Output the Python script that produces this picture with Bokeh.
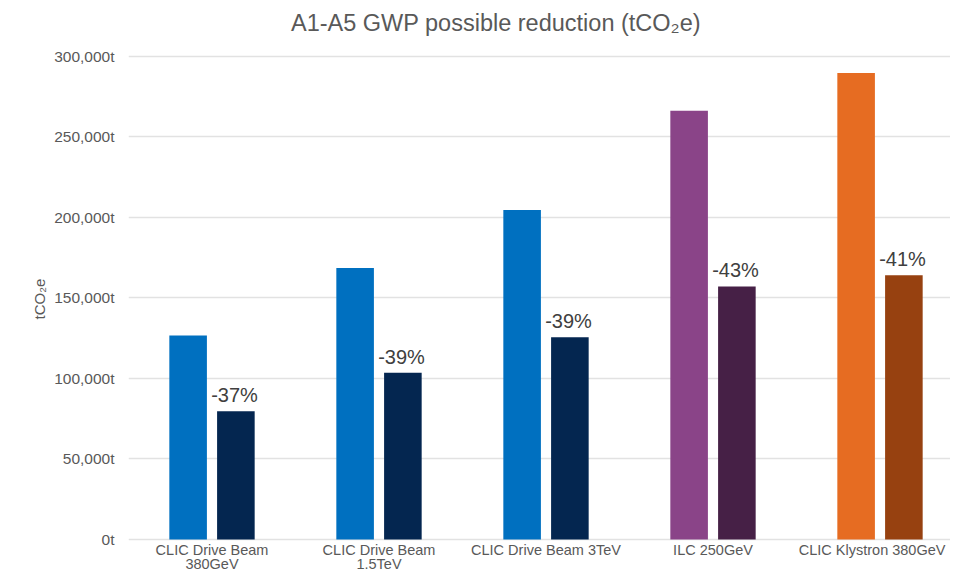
from bokeh.plotting import figure
from bokeh.models import ColumnDataSource, Range1d, FixedTicker
from bokeh.transform import dodge
from bokeh.core.properties import value
from bokeh.embed import file_html
from bokeh.resources import INLINE

# ---- data ----
title_text = "A1-A5 GWP possible reduction (tCO₂e)"
categories = ["CLIC Drive Beam\n380GeV", "CLIC Drive Beam\n1.5TeV",
              "CLIC Drive Beam 3TeV", "ILC 250GeV", "CLIC Klystron 380GeV"]
baseline = [126500, 168500, 204500, 266000, 289500]
reduced = [79500, 103500, 125500, 157000, 164000]
reduction_labels = ["-37%", "-39%", "-39%", "-43%", "-41%"]
baseline_colors = ["#0070C0", "#0070C0", "#0070C0", "#8A4488", "#E66C22"]
reduced_colors = ["#042650", "#042650", "#042650", "#462046", "#974110"]
y_ticks = [0, 50000, 100000, 150000, 200000, 250000, 300000]
y_tick_labels = ["0t", "50,000t", "100,000t", "150,000t", "200,000t", "250,000t", "300,000t"]

FONT = "Liberation Sans"
GRAY = "#595959"

# ---- layout (pixels on the 950x572 canvas) ----
W, H = 950, 572
LEFT = 128            # frame left edge
TOP_300K = 55.5       # pixel row of the 300,000 gridline
ZERO = 539            # pixel row of the 0 gridline
Y_MAX = 300000
spp = Y_MAX / (ZERO - TOP_300K)          # data units per pixel
y_lo = -(H - ZERO) * spp
y_hi = Y_MAX + TOP_300K * spp
x_lo = -0.5
unit = 167.0                              # pixels per category
x_hi = x_lo + (W - LEFT) / unit
CAT_FONT_PX = 14.5

idx = list(range(len(categories)))
src = ColumnDataSource(dict(idx=idx, baseline=baseline, reduced=reduced,
                            lab=reduction_labels, c1=baseline_colors, c2=reduced_colors))

p = figure(width=W, height=H, output_backend="svg", toolbar_location=None,
           x_range=Range1d(x_lo, x_hi), y_range=Range1d(y_lo, y_hi),
           min_border_left=LEFT, min_border_right=0, min_border_top=0, min_border_bottom=0)
p.outline_line_color = None
p.background_fill_color = "white"
p.border_fill_color = "white"

# title drawn inside the (full-height) frame
p.text(x=[x_lo + (495.5 - LEFT) / unit], y=[Y_MAX + (TOP_300K - 22) * spp], text=[title_text],
       text_align="center", text_baseline="middle",
       text_font=value(FONT), text_font_size="23.5px", text_color=GRAY)

bw = 0.225
p.vbar(x=dodge("idx", -0.143, range=p.x_range), top="baseline", width=bw, bottom=0,
       fill_color="c1", line_color=None, source=src)
p.vbar(x=dodge("idx", 0.143, range=p.x_range), top="reduced", width=bw, bottom=0,
       fill_color="c2", line_color=None, source=src)
p.text(x=dodge("idx", 0.135, range=p.x_range), y="reduced", text="lab", source=src,
       text_align="center", text_baseline="bottom", y_offset=-5,
       text_font=value(FONT), text_font_size="20px", text_color="#404040")

# category labels below the zero line (wrapped onto two lines where the reference wraps)
cx, ct, coff, cxoff = [], [], [], []
for i, cat in zip(idx, categories):
    for j, line in enumerate(cat.split("\n")):
        cx.append(i)
        ct.append(line)
        coff.append(2 + 14.5 * j)
        # keep the last label inside the right canvas edge (approximate text half-width)
        half_w = 0.52 * CAT_FONT_PX * len(line) / 2
        right_px = LEFT + (i - x_lo) * unit + half_w
        cxoff.append(min(0, W - 3 - right_px))
csrc = ColumnDataSource(dict(x=cx, y=[0] * len(cx), text=ct, off=coff, xoff=cxoff))
p.text(x="x", y="y", text="text", y_offset="off", x_offset="xoff", source=csrc,
       text_align="center", text_baseline="top",
       text_font=value(FONT), text_font_size=f"{CAT_FONT_PX}px", text_color=GRAY)

p.xaxis.visible = False
p.xgrid.grid_line_color = None

p.yaxis.ticker = FixedTicker(ticks=y_ticks)
p.yaxis.major_label_overrides = {v: s for v, s in zip(y_ticks, y_tick_labels)}
p.yaxis.axis_line_color = None
p.yaxis.major_tick_line_color = None
p.yaxis.minor_tick_line_color = None
p.yaxis.major_label_text_font = FONT
p.yaxis.major_label_text_font_size = "15.5px"
p.yaxis.major_label_text_color = GRAY
p.yaxis.major_label_standoff = 8
p.yaxis.axis_label = "tCO₂e" + "\u00a0" * 6
p.yaxis.axis_label_text_font = FONT
p.yaxis.axis_label_text_font_size = "15px"
p.yaxis.axis_label_text_font_style = "normal"
p.yaxis.axis_label_text_color = GRAY
p.yaxis.axis_label_standoff = 3
p.ygrid.ticker = FixedTicker(ticks=y_ticks)
p.ygrid.grid_line_color = "#e2e2e2"
p.ygrid.grid_line_width = 1.5

open("out.html", "w").write(file_html(p, INLINE))
